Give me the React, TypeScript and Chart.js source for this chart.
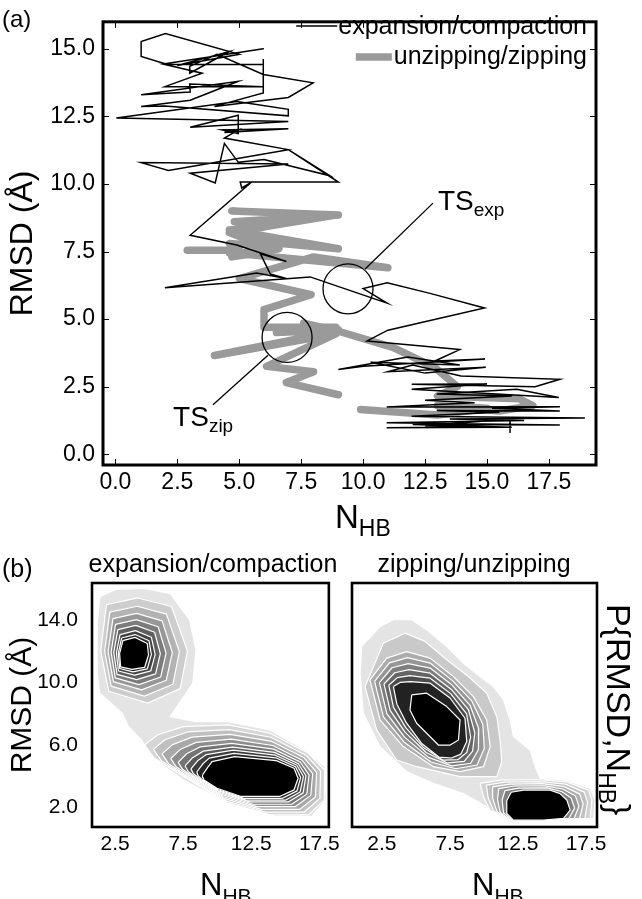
import React, { useEffect, useRef } from 'react';
import { Chart, registerables } from 'chart.js';

Chart.register(...registerables);

const FONT = '"Liberation Sans", Arial, Helvetica, sans-serif';
Chart.defaults.font.family = FONT;
Chart.defaults.color = '#000';

// ---------------- panel (a) data ----------------
const topXTicks = [0, 2.5, 5, 7.5, 10, 12.5, 15, 17.5];
const topYTicks = [0, 2.5, 5, 7.5, 10, 12.5, 15];

const expansionPath: number[][] = [
  [5.97, 15.0], [2.0, 14.45], [1.04, 14.72], [1.04, 15.27], [2.02, 15.57], [5.0, 14.8], [2.5, 14.38], [4.6, 14.9],
  [3.0, 14.1], [3.0, 14.35], [4.1, 14.8], [5.97, 14.05], [7.98, 13.74], [6.98, 13.2], [4.0, 12.87], [5.97, 13.37],
  [5.97, 14.62], [5.97, 14.42], [2.0, 14.42], [3.5, 14.1], [2.0, 13.6], [5.97, 13.6], [3.0, 13.7], [3.02, 13.4],
  [1.04, 13.3], [4.96, 13.8], [3.02, 13.1], [1.04, 12.87], [2.0, 12.88], [6.98, 12.52], [6.98, 12.76], [4.9, 13.05],
  [0.04, 12.44], [6.98, 12.31], [3.02, 12.1], [4.96, 12.54], [4.96, 11.86], [4.3, 12.0], [6.98, 12.04], [4.4, 11.9],
  [4.96, 12.0], [4.4, 11.7], [6.98, 11.27], [2.14, 10.5], [1.04, 10.79], [6.98, 10.74], [3.02, 10.4], [4.03, 10.04],
  [4.4, 11.5], [4.96, 10.8], [6.0, 10.9], [8.67, 10.3], [6.98, 11.27], [9.0, 10.07], [5.04, 10.07], [5.1, 9.85],
  [5.5, 10.07], [3.02, 8.1], [4.9, 7.74], [6.9, 7.13], [5.85, 7.42], [6.25, 6.67], [6.9, 6.5], [5.7, 6.7],
  [2.0, 6.16], [7.86, 6.56], [10.97, 5.59], [10.0, 6.13], [10.97, 6.34], [12.7, 5.95], [14.9, 5.41], [11.0, 4.59],
  [10.16, 4.19], [13.9, 3.87], [12.9, 3.45], [14.92, 3.52], [10.01, 3.25], [9.0, 3.13], [11.8, 3.6], [13.9, 3.3],
  [10.3, 3.4], [12.5, 3.0], [14.95, 3.22], [11.0, 3.05], [12.0, 3.3], [13.95, 2.89], [17.94, 2.77], [16.94, 2.5],
  [11.96, 2.59], [15.0, 2.6], [11.96, 2.4], [17.9, 2.1], [16.2, 2.4], [12.97, 2.23], [16.0, 2.15], [12.5, 2.0],
  [14.5, 1.9], [10.95, 1.75], [17.94, 1.76], [15.2, 1.7], [17.94, 1.6], [12.97, 1.62], [15.5, 1.55], [11.96, 1.4],
  [18.95, 1.34], [13.5, 1.3], [16.5, 1.25], [10.95, 1.16], [17.94, 1.08], [12.0, 1.1], [16.0, 1.0], [10.95, 0.98],
  [14.99, 1.02], [12.5, 1.05], [15.93, 1.3], [15.93, 0.8],
];

const zippingPathA: number[][] = [
  [2.9, 7.55], [5.0, 7.55], [4.6, 7.8], [6.0, 7.7], [4.6, 8.2], [8.9, 8.85], [4.7, 9.0], [9.0, 8.85],
  [4.8, 8.6], [6.0, 8.4], [4.6, 8.3], [9.0, 7.6], [5.5, 7.9], [6.6, 7.6], [4.7, 7.3], [5.8, 7.45],
  [4.6, 7.45], [11.0, 6.9], [8.0, 7.3], [5.0, 6.5], [7.9, 5.9], [6.0, 5.35], [6.0, 4.7], [8.9, 4.7],
  [6.5, 4.5], [9.0, 4.6], [7.0, 4.2], [4.0, 3.65], [8.9, 4.45], [6.1, 3.25], [8.0, 3.05], [6.9, 2.65], [9.0, 2.2],
];
const zippingPathB: number[][] = [
  [7.6, 4.85], [9.0, 4.55], [11.2, 3.95], [12.9, 3.2], [13.8, 2.5], [13.0, 2.15], [16.3, 2.05], [16.85, 1.8],
  [15.5, 1.6], [13.0, 1.8], [15.0, 1.7], [13.0, 1.45], [9.9, 1.65],
];

// transition-state markers (data coordinates)
const tsExpCenter = [9.39, 6.12];
const tsZipCenter = [6.93, 4.32];
const tsExpLeader = [[10.08, 6.85], [12.82, 9.29]];
const tsZipLeader = [[3.94, 1.83], [6.16, 3.66]];
const tsExpLabelAt = [13.02, 9.04];
const tsZipLabelAt = [2.33, 1.04];

// ---------------- panel (b) data ----------------
const bottomXTicks = [2.5, 7.5, 12.5, 17.5];
const bottomYTicks = [2.0, 6.0, 10.0, 14.0];

const expHull: number[][] = [
  [1.37, 15.5], [2.55, 15.97], [4.67, 16.03], [6.56, 15.7], [7.97, 14.0], [8.44, 12.08], [8.2, 9.94], [7.03, 8.44],
  [6.56, 7.8], [8.44, 7.48], [10.8, 7.48], [13.87, 6.95], [16.46, 5.67], [17.88, 4.6], [18.0, 2.46], [16.93, 1.39],
  [14.34, 1.39], [10.8, 2.25], [7.5, 3.74], [5.14, 5.24], [4.43, 6.31], [3.49, 7.16], [3.02, 8.02], [1.37, 9.3],
  [1.18, 10.58], [1.18, 13.79],
];
const expUpperLevels: number[][][] = [
  [[4.16, 15.42], [6.64, 14.87], [7.81, 12.02], [7.28, 9.6], [4.89, 8.67], [2.03, 9.43], [1.44, 12.04], [1.86, 14.99]],
  [[4.12, 14.89], [6.27, 14.38], [7.22, 11.97], [6.74, 9.88], [4.65, 9.12], [2.21, 9.76], [1.73, 12.0], [2.11, 14.51]],
  [[4.08, 14.43], [5.95, 13.95], [6.7, 11.92], [6.26, 10.14], [4.44, 9.52], [2.37, 10.05], [1.98, 11.97], [2.34, 14.09]],
  [[4.05, 14.03], [5.66, 13.57], [6.24, 11.88], [5.85, 10.35], [4.25, 9.86], [2.51, 10.29], [2.2, 11.94], [2.53, 13.72]],
  [[4.02, 13.66], [5.4, 13.22], [5.82, 11.84], [5.47, 10.55], [4.08, 10.18], [2.64, 10.52], [2.4, 11.92], [2.7, 13.39]],
  [[3.99, 13.32], [5.16, 12.9], [5.44, 11.8], [5.12, 10.74], [3.93, 10.47], [2.75, 10.73], [2.59, 11.89], [2.86, 13.07]],
  [[3.97, 13.07], [4.99, 12.67], [5.16, 11.78], [4.86, 10.87], [3.81, 10.68], [2.84, 10.89], [2.73, 11.87], [2.98, 12.85]],
  [[3.96, 12.89], [4.86, 12.5], [4.95, 11.76], [4.67, 10.97], [3.73, 10.84], [2.9, 11.0], [2.83, 11.86], [3.07, 12.68]],
];
const expLowerLevels: number[][][] = [
  [[4.67, 5.99], [5.61, 6.63], [7.5, 7.16], [10.8, 7.27], [13.87, 6.74], [16.7, 5.45], [17.88, 4.38], [17.88, 2.46], [16.7, 1.5], [13.87, 1.5], [10.8, 2.25], [7.97, 3.74], [5.38, 5.13]],
  [[5.31, 5.7], [6.16, 6.32], [7.82, 6.82], [10.87, 6.97], [13.94, 6.48], [16.54, 5.31], [17.59, 4.3], [17.54, 2.56], [16.38, 1.68], [13.55, 1.68], [10.68, 2.39], [8.13, 3.74], [5.92, 4.95]],
  [[5.94, 5.41], [6.72, 6.01], [8.14, 6.49], [10.94, 6.66], [14.01, 6.21], [16.38, 5.16], [17.3, 4.22], [17.21, 2.65], [16.06, 1.85], [13.23, 1.85], [10.55, 2.54], [8.29, 3.74], [6.45, 4.76]],
  [[6.58, 5.12], [7.27, 5.69], [8.45, 6.15], [11.01, 6.36], [14.08, 5.95], [16.22, 5.02], [17.01, 4.14], [16.87, 2.75], [15.75, 2.03], [12.92, 2.03], [10.43, 2.68], [8.45, 3.74], [6.99, 4.58]],
  [[7.13, 4.87], [7.75, 5.42], [8.73, 5.86], [11.07, 6.09], [14.14, 5.72], [16.09, 4.89], [16.75, 4.07], [16.58, 2.83], [15.47, 2.18], [12.64, 2.18], [10.32, 2.81], [8.58, 3.74], [7.45, 4.42]],
  [[7.64, 4.64], [8.19, 5.17], [8.98, 5.59], [11.13, 5.85], [14.2, 5.51], [15.96, 4.78], [16.52, 4.01], [16.31, 2.91], [15.22, 2.33], [12.39, 2.33], [10.23, 2.92], [8.71, 3.74], [7.88, 4.27]],
  [[8.07, 4.45], [8.56, 4.97], [9.2, 5.37], [11.18, 5.65], [14.25, 5.33], [15.85, 4.68], [16.33, 3.96], [16.09, 2.97], [15.0, 2.44], [12.17, 2.44], [10.14, 3.02], [8.82, 3.74], [8.24, 4.15]],
  [[8.5, 4.25], [8.93, 4.76], [9.41, 5.14], [11.22, 5.44], [14.29, 5.16], [15.75, 4.59], [16.13, 3.9], [15.86, 3.04], [14.79, 2.56], [11.96, 2.56], [10.06, 3.11], [8.92, 3.74], [8.59, 4.02]],
  [[8.92, 4.06], [9.3, 4.55], [9.62, 4.92], [11.27, 5.24], [14.34, 4.98], [15.64, 4.49], [15.94, 3.85], [15.64, 3.1], [14.58, 2.68], [11.75, 2.68], [9.98, 3.21], [9.03, 3.74], [8.95, 3.9]],
];

const zipHull: number[][] = [
  [1.01, 12.31], [2.36, 13.59], [3.34, 14.02], [4.69, 14.02], [5.79, 13.38], [7.26, 12.31], [8.49, 11.23], [9.71, 10.38],
  [10.69, 9.73], [11.43, 8.88], [11.92, 7.59], [12.16, 6.52], [13.39, 5.66], [13.76, 4.59], [14.12, 3.84], [16.08, 3.73],
  [17.8, 3.2], [18.17, 2.45], [18.05, 1.27], [15.84, 1.05], [11.67, 1.16], [10.2, 2.02], [8.49, 2.87], [6.28, 3.52],
  [4.32, 4.27], [2.36, 5.87], [1.13, 8.02], [0.89, 10.59],
];
const zipUpperLevels: number[][][] = [
  [[1.26, 9.73], [2.6, 12.52], [4.2, 13.16], [5.67, 12.63], [7.26, 11.45], [8.85, 10.38], [10.2, 9.3], [10.94, 7.8], [11.18, 6.3], [11.3, 4.91], [10.94, 3.95], [8.24, 3.95], [5.05, 4.59], [3.58, 5.02], [2.11, 6.95]],
  [[1.62, 10.16], [2.85, 11.56], [4.32, 11.98], [6.04, 11.56], [7.75, 10.38], [9.22, 9.09], [10.2, 7.59], [10.45, 5.88], [9.96, 4.59], [8.24, 4.27], [6.28, 4.59], [4.07, 5.88], [2.36, 7.59]],
  [[1.96, 10.07], [3.05, 11.25], [4.38, 11.59], [6.04, 11.24], [7.7, 10.1], [9.1, 8.81], [9.91, 7.31], [10.02, 5.78], [9.49, 4.7], [7.93, 4.46], [6.1, 4.89], [4.12, 6.18], [2.61, 7.79]],
  [[2.31, 9.99], [3.24, 10.94], [4.43, 11.21], [6.04, 10.92], [7.65, 9.83], [8.97, 8.53], [9.61, 7.03], [9.59, 5.69], [9.02, 4.81], [7.62, 4.64], [5.93, 5.19], [4.16, 6.49], [2.86, 7.99]],
  [[2.65, 9.9], [3.44, 10.62], [4.49, 10.82], [6.04, 10.59], [7.6, 9.55], [8.85, 8.26], [9.32, 6.76], [9.16, 5.59], [8.54, 4.93], [7.32, 4.83], [5.75, 5.5], [4.21, 6.79], [3.1, 8.2]],
  [[3.0, 9.82], [3.63, 10.31], [4.54, 10.44], [6.04, 10.27], [7.55, 9.28], [8.72, 7.98], [9.02, 6.48], [8.73, 5.5], [8.07, 5.04], [7.01, 5.01], [5.58, 5.8], [4.25, 7.1], [3.35, 8.4]],
  [[3.34, 9.73], [3.83, 10.0], [4.6, 10.05], [6.04, 9.95], [7.5, 9.0], [8.6, 7.7], [8.73, 6.2], [8.3, 5.4], [7.6, 5.15], [6.7, 5.2], [5.4, 6.1], [4.3, 7.4], [3.6, 8.6]],
  [[4.69, 9.2], [5.79, 9.31], [7.26, 8.45], [8.24, 7.59], [8.12, 6.3], [7.51, 5.98], [6.65, 5.98], [5.05, 7.38], [4.56, 8.23]],
];
const zipLowerLevels: number[][][] = [
  [[9.71, 3.52], [11.18, 3.73], [13.88, 3.77], [16.08, 3.62], [17.68, 3.09], [17.92, 2.45], [17.8, 1.27], [15.84, 1.12], [11.67, 1.12], [10.45, 1.8], [9.96, 2.66]],
  [[10.17, 3.41], [11.52, 3.6], [14.08, 3.63], [15.98, 3.47], [17.36, 2.96], [17.6, 2.32], [17.41, 1.27], [15.55, 1.13], [11.77, 1.13], [10.69, 1.76], [10.3, 2.61]],
  [[10.63, 3.29], [11.87, 3.47], [14.27, 3.5], [15.89, 3.31], [17.04, 2.83], [17.28, 2.19], [17.02, 1.27], [15.25, 1.14], [11.87, 1.14], [10.94, 1.72], [10.64, 2.56]],
  [[11.08, 3.18], [12.21, 3.35], [14.47, 3.36], [15.79, 3.16], [16.72, 2.71], [16.97, 2.06], [16.62, 1.27], [14.96, 1.14], [11.96, 1.14], [11.18, 1.67], [10.99, 2.5]],
  [[11.54, 3.06], [12.56, 3.22], [14.66, 3.23], [15.7, 3.0], [16.4, 2.58], [16.65, 1.93], [16.23, 1.27], [14.66, 1.15], [12.06, 1.15], [11.43, 1.63], [11.33, 2.45]],
  [[12.0, 2.95], [12.9, 3.09], [14.86, 3.09], [15.6, 2.85], [16.08, 2.45], [16.33, 1.8], [15.84, 1.27], [14.37, 1.16], [12.16, 1.16], [11.67, 1.59], [11.67, 2.4]],
];

// ---------------- styles ----------------
const HULL_SHADE = '#e4e4e4';
const expUpperShades = ['#cdcdcd', '#b3b3b3', '#979797', '#7c7c7c', '#5f5f5f', '#434343', '#282828', '#000000'];
const expLowerShades = ['#d6d6d6', '#c0c0c0', '#a8a8a8', '#8e8e8e', '#747474', '#595959', '#3e3e3e', '#252525', '#000000'];
const zipUpperShades = ['#c9c9c9', '#acacac', '#969696', '#7e7e7e', '#656565', '#4c4c4c', '#222222', '#000000'];
const zipLowerShades = ['#d2d2d2', '#c0c0c0', '#adadad', '#979797', '#7f7f7f', '#000000'];

const f = (s: number) => `${s}px ${FONT}`;

function drawSub(ctx: CanvasRenderingContext2D, x: number, y: number, main: string, sub: string, size: number, subSize: number, dy: number, tail = '') {
  ctx.font = f(size);
  ctx.fillText(main, x, y);
  let w = ctx.measureText(main).width;
  ctx.font = f(subSize);
  ctx.fillText(sub, x + w, y + dy);
  w += ctx.measureText(sub).width;
  if (tail) {
    ctx.font = f(size);
    ctx.fillText(tail, x + w, y);
  }
}

function pathDataset(pts: number[][], label: string, color: string, width: number, join: CanvasLineJoin) {
  return {
    label,
    data: pts.map(([x, y]) => ({ x, y })),
    borderColor: color,
    borderWidth: width,
    borderJoinStyle: join,
    borderCapStyle: 'round',
    pointRadius: 0,
    fill: false,
    tension: 0,
  };
}

function polyDataset(pts: number[][], shade: string) {
  const data = pts.map(([x, y]) => ({ x, y }));
  data.push({ x: pts[0][0], y: pts[0][1] });
  return {
    data,
    borderColor: '#ffffff',
    borderWidth: 1.2,
    borderJoinStyle: 'round',
    backgroundColor: shade,
    fill: 'shape',
    pointRadius: 0,
    tension: 0,
  };
}

const tickSetter = (arr: number[]) => (scale: any) => {
  scale.ticks = arr.map((v) => ({ value: v }));
};

// ---------------- panel (a) ----------------
const panelAPlugin = {
  id: 'panelA',
  afterDatasetsDraw(chart: any) {
    const { ctx, chartArea: a, scales } = chart;
    const xs = scales.x, ys = scales.y;
    const P = (p: number[]) => [xs.getPixelForValue(p[0]), ys.getPixelForValue(p[1])];
    ctx.save();
    ctx.strokeStyle = '#000';
    ctx.lineWidth = 1;
    ctx.beginPath();
    for (const v of topXTicks) {
      const px = Math.round(xs.getPixelForValue(v)) + 0.5;
      ctx.moveTo(px, a.bottom); ctx.lineTo(px, a.bottom - 6);
      ctx.moveTo(px, a.top); ctx.lineTo(px, a.top + 6);
    }
    for (const v of topYTicks) {
      const py = Math.round(ys.getPixelForValue(v)) + 0.5;
      ctx.moveTo(a.left, py); ctx.lineTo(a.left + 6, py);
      ctx.moveTo(a.right, py); ctx.lineTo(a.right - 6, py);
    }
    ctx.stroke();
    ctx.lineWidth = 3;
    ctx.strokeRect(a.left, a.top, a.right - a.left, a.bottom - a.top);

    // transition state circles and leaders
    ctx.lineWidth = 1.3;
    for (const c of [tsExpCenter, tsZipCenter]) {
      const [cx, cy] = P(c);
      ctx.beginPath();
      ctx.arc(cx, cy, 25, 0, Math.PI * 2);
      ctx.stroke();
    }
    for (const l of [tsExpLeader, tsZipLeader]) {
      const [x1, y1] = P(l[0]);
      const [x2, y2] = P(l[1]);
      ctx.beginPath(); ctx.moveTo(x1, y1); ctx.lineTo(x2, y2); ctx.stroke();
    }
    ctx.fillStyle = '#000';
    ctx.textAlign = 'left';
    ctx.textBaseline = 'alphabetic';
    let [lx, ly] = P(tsExpLabelAt);
    drawSub(ctx, lx, ly, 'TS', 'exp', 28, 19, 6);
    [lx, ly] = P(tsZipLabelAt);
    drawSub(ctx, lx, ly, 'TS', 'zip', 28, 19, 6);

    // legend
    const ds = chart.data.datasets;
    ctx.font = f(25);
    ctx.textAlign = 'right';
    const tx = a.right - 9;
    ctx.fillText(ds[0].label, tx, 34);
    ctx.fillText(ds[1].label, tx, 64);
    const w0 = ctx.measureText(ds[0].label).width;
    const w1 = ctx.measureText(ds[1].label).width;
    ctx.lineCap = 'butt';
    ctx.strokeStyle = ds[0].borderColor;
    ctx.lineWidth = ds[0].borderWidth;
    ctx.beginPath(); ctx.moveTo(tx - w0 - 42, 26); ctx.lineTo(tx - w0 - 1, 26); ctx.stroke();
    ctx.strokeStyle = ds[1].borderColor;
    ctx.lineWidth = ds[1].borderWidth;
    ctx.beginPath(); ctx.moveTo(tx - w1 - 38, 57); ctx.lineTo(tx - w1 - 2, 57); ctx.stroke();

    // labels
    ctx.textAlign = 'left';
    ctx.fillStyle = '#000';
    ctx.font = f(24);
    ctx.fillText('(a)', 2, 27);
    drawSub(ctx, 335, 528, 'N', 'HB', 33, 23, 8);
    ctx.restore();
  },
};

function topConfig(): any {
  return {
    type: 'line',
    data: {
      datasets: [
        pathDataset(expansionPath, 'expansion/compaction', '#000000', 1.5, 'miter'),
        pathDataset(zippingPathA, 'unzipping/zipping', '#9a9a9a', 7.5, 'round'),
        pathDataset(zippingPathB, 'unzipping/zipping', '#9a9a9a', 7.5, 'round'),
      ],
    },
    options: {
      responsive: false,
      animation: false,
      devicePixelRatio: 1,
      events: [],
      layout: { padding: { left: 0, right: 46, top: 8, bottom: 0 } },
      plugins: { legend: { display: false }, tooltip: { enabled: false } },
      scales: {
        x: {
          type: 'linear', min: -0.5, max: 19.4,
          afterBuildTicks: tickSetter(topXTicks),
          afterFit: (s: any) => { s.height = 80; },
          grid: { display: false, drawTicks: false }, border: { display: false },
          ticks: { font: { size: 23 }, color: '#000', padding: 4, maxRotation: 0, autoSkip: false, callback: (v: any) => Number(v).toFixed(1) },
        },
        y: {
          type: 'linear', min: -0.4, max: 16.0,
          afterBuildTicks: tickSetter(topYTicks),
          afterFit: (s: any) => { s.width = 103; },
          grid: { display: false, drawTicks: false }, border: { display: false },
          ticks: { font: { size: 23 }, color: '#000', padding: 8, autoSkip: false, callback: (v: any) => Number(v).toFixed(1) },
          title: { display: true, text: 'RMSD (Å)', font: { size: 32 }, color: '#000', padding: { top: 4, bottom: 0 } },
        },
      },
    },
    plugins: [panelAPlugin],
  };
}

// ---------------- panel (b) ----------------
function contourDatasets(hull: number[][], groups: [number[][][], string[]][]) {
  const drawOrder: any[] = [polyDataset(hull, HULL_SHADE)];
  for (const [levels, shades] of groups) {
    levels.forEach((lv, i) => drawOrder.push(polyDataset(lv, shades[i])));
  }
  return drawOrder.reverse(); // index 0 is drawn on top
}

function makePanelBPlugin(opts: { title: string; titleX: number; nhbX: number; showB: boolean; showP: boolean }) {
  return {
    id: 'panelB',
    afterDatasetsDraw(chart: any) {
      const { ctx, chartArea: a } = chart;
      ctx.save();
      ctx.strokeStyle = '#000';
      ctx.lineWidth = 2.6;
      ctx.strokeRect(a.left, a.top, a.right - a.left, a.bottom - a.top);
      ctx.fillStyle = '#000';
      ctx.textBaseline = 'alphabetic';
      ctx.textAlign = 'center';
      ctx.font = f(25);
      ctx.fillText(opts.title, opts.titleX, 32);
      ctx.textAlign = 'left';
      if (opts.showB) {
        ctx.font = f(25);
        ctx.fillText('(b)', 2, 37);
      }
      drawSub(ctx, opts.nhbX, 355, 'N', 'HB', 31, 21, 8);
      if (opts.showP) {
        ctx.translate(262, 64);
        ctx.rotate(Math.PI / 2);
        drawSub(ctx, 0, 0, 'P{RMSD,N', 'HB', 34, 23, 8, '}');
      }
      ctx.restore();
    },
  };
}

function bottomConfig(side: 'exp' | 'zip'): any {
  const isExp = side === 'exp';
  const datasets = isExp
    ? contourDatasets(expHull, [[expUpperLevels, expUpperShades], [expLowerLevels, expLowerShades]])
    : contourDatasets(zipHull, [[zipUpperLevels, zipUpperShades], [zipLowerLevels, zipLowerShades]]);
  return {
    type: 'line',
    data: { datasets },
    options: {
      responsive: false,
      animation: false,
      devicePixelRatio: 1,
      events: [],
      layout: { padding: isExp ? { left: 0, right: 6, top: 43, bottom: 0 } : { left: 7, right: 45, top: 43, bottom: 0 } },
      plugins: { legend: { display: false }, tooltip: { enabled: false }, filler: { propagate: false } },
      scales: {
        x: {
          type: 'linear', min: isExp ? 0.8 : 0.3, max: isExp ? 18.2 : 18.3,
          afterBuildTicks: tickSetter(bottomXTicks),
          afterFit: (s: any) => { s.height = 72; },
          grid: { display: false, drawTicks: false }, border: { display: false },
          ticks: { font: { size: 21 }, color: '#000', padding: 5, maxRotation: 0, autoSkip: false, callback: (v: any) => Number(v).toFixed(1) },
        },
        y: isExp
          ? {
              type: 'linear', min: 0.72, max: 16.38,
              afterBuildTicks: tickSetter(bottomYTicks),
              afterFit: (s: any) => { s.width = 92; },
              grid: { display: false, drawTicks: false }, border: { display: false },
              ticks: { font: { size: 21 }, color: '#000', padding: 14, autoSkip: false, callback: (v: any) => Number(v).toFixed(1) },
              title: { display: true, text: 'RMSD (Å)', font: { size: 30 }, color: '#000', padding: { top: 5, bottom: 0 } },
            }
          : { type: 'linear', display: false, min: 0.72, max: 16.38 },
      },
    },
    plugins: [
      makePanelBPlugin(
        isExp
          ? { title: 'expansion/compaction', titleX: 213, nhbX: 200, showB: true, showP: false }
          : { title: 'zipping/unzipping', titleX: 129, nhbX: 127, showB: false, showP: true }
      ),
    ],
  };
}

export default function App() {
  const aRef = useRef<HTMLCanvasElement>(null);
  const bRef = useRef<HTMLCanvasElement>(null);
  const cRef = useRef<HTMLCanvasElement>(null);
  useEffect(() => {
    const charts = [
      new Chart(aRef.current as HTMLCanvasElement, topConfig()),
      new Chart(bRef.current as HTMLCanvasElement, bottomConfig('exp')),
      new Chart(cRef.current as HTMLCanvasElement, bottomConfig('zip')),
    ];
    return () => charts.forEach((c) => c.destroy());
  }, []);
  return (
    <div style={{ position: 'fixed', left: 0, top: 0, width: 642, height: 899, background: '#fff', overflow: 'hidden' }}>
      <canvas ref={aRef} width={642} height={545} style={{ position: 'absolute', left: 0, top: 0, width: 642, height: 545 }} />
      <canvas ref={bRef} width={345} height={359} style={{ position: 'absolute', left: 0, top: 540, width: 345, height: 359 }} />
      <canvas ref={cRef} width={297} height={359} style={{ position: 'absolute', left: 345, top: 540, width: 297, height: 359 }} />
    </div>
  );
}
